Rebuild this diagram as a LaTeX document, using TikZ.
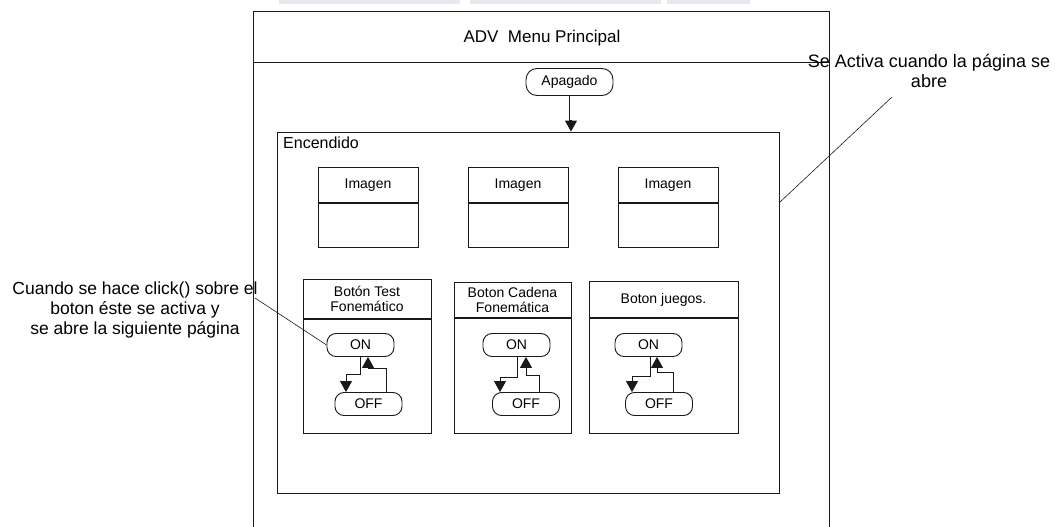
\documentclass[tikz,border=0pt]{standalone}
\usepackage{fontspec}
\setmainfont{Liberation Sans}
\usetikzlibrary{arrows.meta,calc}
\definecolor{faint}{RGB}{234,231,240}
\begin{document}
\begin{tikzpicture}[x=1pt,y=-1pt,
  line/.style={draw=black!90, line width=0.9pt},
  big/.style={font=\fontsize{17.5}{20}\selectfont},
  mid/.style={font=\fontsize{16}{19}\selectfont},
  small/.style={font=\fontsize{14}{15.5}\selectfont},
  pill/.style={line, rounded corners=9pt, minimum width=67pt, minimum height=23pt, inner sep=0pt, small},
  arr/.style={line, -{Triangle[width=12pt,length=11pt]}},
  box/.style={line, inner sep=0pt},
  leader/.style={draw=black!90, line width=0.6pt},
]
\useasboundingbox (0,0) rectangle (1055,527);
% faint remnants at top edge
\fill[faint] (279,0) rectangle (460,4);
\fill[faint] (470,0) rectangle (661,4);
\fill[faint] (667,0) rectangle (750,4);

% outer frame
\draw[line] (253,527) -- (253,11) -- (829,11) -- (829,527);
\draw[line] (253,62) -- (829,62);
\node[font=\fontsize{17}{20}\selectfont] (title) at (542,38) {ADV\ \ Menu Principal};

% Apagado
\node[pill, rounded corners=11pt, minimum width=87pt, minimum height=27pt] (apag) at (569.5,82) {Apagado};

% Encendido
\node[box, minimum width=502pt, minimum height=361pt] (enc) at (528,312.5) {};
\node[mid, anchor=base west, inner sep=0pt] (enclbl) at (283,148) {Encendido};
\draw[arr] (apag.south) -- ++(0,24) -| ([xshift=43pt]enc.north);

% Imagen boxes
\foreach \i/\x in {1/368,2/518,3/668}{
  \node[box, small, minimum width=100pt, minimum height=35pt, anchor=north] (img\i h) at (\x,167) {Imagen};
  \node[box, minimum width=100pt, minimum height=44pt, anchor=north] (img\i b) at (img\i h.south) {};
}

% Button boxes
\node[box, small, align=center, minimum width=128pt, minimum height=39pt, anchor=north] (b1h) at (367,279) {Botón Test\\Fonemático};
\node[box, minimum width=128pt, minimum height=114pt, anchor=north] (b1b) at (b1h.south) {};
\node[box, small, align=center, minimum width=117pt, minimum height=35pt, anchor=north] (b2h) at (512.5,282) {Boton Cadena\\Fonemática};
\node[box, minimum width=117pt, minimum height=115pt, anchor=north] (b2b) at (b2h.south) {};
\node[box, small, align=center, minimum width=149pt, minimum height=36pt, anchor=north] (b3h) at (663.5,281) {Boton juegos.};
\node[box, minimum width=149pt, minimum height=115pt, anchor=north] (b3b) at (b3h.south) {};

% ON / OFF
\node[pill] (on1) at (360.5,345) {ON};
\node[pill] (off1) at (368.5,404) {OFF};
\node[pill] (on2) at (516.5,345) {ON};
\node[pill] (off2) at (526,404) {OFF};
\node[pill] (on3) at (648.5,345) {ON};
\node[pill] (off3) at (659,404) {OFF};

\draw[arr] (on1.south) -- ++(0,17) -| ([xshift=-22.5pt]off1.north);
\draw[arr] ([xshift=17.5pt]off1.north) -- ++(0,-24) -| ([xshift=7.5pt]on1.south);
\draw[arr] ([xshift=0.5pt]on2.south) -- ++(0,20) -| ([xshift=-26pt]off2.north);
\draw[arr] ([xshift=13pt]off2.north) -- ++(0,-17) -| ([xshift=9.5pt]on2.south);
\draw[arr] ([xshift=1.5pt]on3.south) -- ++(0,19) -| ([xshift=-27pt]off3.north);
\draw[arr] ([xshift=14pt]off3.north) -- ++(0,-20) -| ([xshift=8.5pt]on3.south);

% annotations
\node[font=\fontsize{18}{20}\selectfont, align=center, inner sep=0pt] (noteR) at (929,71) {Se Activa cuando la página se\\abre};
\coordinate (cR) at (892,97);
\draw[leader] (cR) -- ($(enc.north east)+(0,71)$);

\node[big, align=center, inner sep=0pt] (noteL) at (135,309.5) {Cuando se hace click() sobre el\\boton éste se activa y\\se abre la siguiente página};
\coordinate (cL) at (255,298);
\draw[leader] (cL) -- (on1.west);
\end{tikzpicture}
\end{document}
